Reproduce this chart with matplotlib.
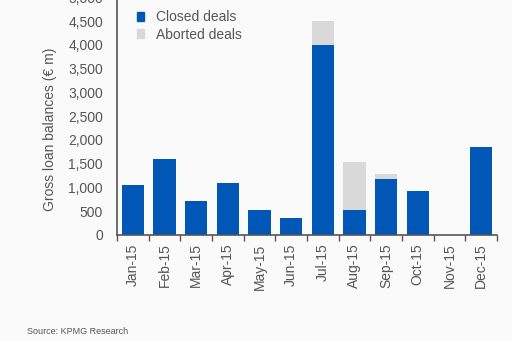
import matplotlib.pyplot as plt
import numpy as np
from matplotlib.patches import Patch

plt.rcParams['font.family'] = ['Liberation Sans', 'DejaVu Sans']

# Monthly gross loan balances (EUR m)
months = ['Jan-15', 'Feb-15', 'Mar-15', 'Apr-15', 'May-15', 'Jun-15',
          'Jul-15', 'Aug-15', 'Sep-15', 'Oct-15', 'Nov-15', 'Dec-15']
closed = [1050, 1600, 720, 1090, 530, 350, 4000, 530, 1170, 930, 0, 1850]
aborted = [0, 0, 0, 0, 0, 0, 500, 1000, 110, 0, 0, 0]
yticks = [0, 500, 1000, 1500, 2000, 2500, 3000, 3500, 4000, 4500, 5000]

blue = '#0057b5'
grey = '#d9d9d9'
txt = '#555555'

fig = plt.figure(figsize=(5.12, 3.41), dpi=100, facecolor='#fafafa')
ax = fig.add_axes([0.2285, 0.3109, 0.742, 0.6965])
ax.set_facecolor('#fafafa')

x = np.arange(len(months))
ax.bar(x, closed, width=0.7, color=blue, zorder=2)
ax.bar(x, aborted, width=0.7, bottom=closed, color=grey, zorder=2)

ax.set_xlim(-0.5, len(months) - 0.5)
ax.set_ylim(0, 5000)
ax.set_yticks(yticks)
ax.set_yticklabels([f'{v:,}' for v in yticks], fontsize=10, color=txt)
ax.tick_params(axis='y', length=0, pad=10)

# x ticks sit between categories, labels centred on each bar
ax.set_xticks(np.arange(-0.5, len(months)), minor=False)
ax.set_xticklabels([])
ax.set_xticks(x, minor=True)
ax.set_xticklabels(months, minor=True, rotation=90, fontsize=10, color=txt)
ax.tick_params(axis='x', which='major', length=4, color='#555555', width=1)
ax.tick_params(axis='x', which='minor', length=0, pad=6)

for s in ['top', 'right']:
    ax.spines[s].set_visible(False)
for s in ['left', 'bottom']:
    ax.spines[s].set_color('#555555')
    ax.spines[s].set_linewidth(1.2)

fig.text(0.098, 0.62, 'Gross loan balances (€ m)', rotation=90,
         ha='center', va='center', fontsize=10, color=txt)

handles = [Patch(color=blue, label='Closed deals'),
           Patch(color=grey, label='Aborted deals')]
fig.legend(handles=handles, loc='upper left', bbox_to_anchor=(0.262, 0.978),
           frameon=False, fontsize=10, handlelength=0.5, handleheight=0.6,
           handletextpad=0.9, labelspacing=0.25, labelcolor=txt,
           borderaxespad=0, borderpad=0.2)

fig.text(0.053, 0.029, 'Source: KPMG Research', fontsize=6.5, color=txt,
         va='center')

fig.savefig('out.png', dpi=100, facecolor=fig.get_facecolor())
